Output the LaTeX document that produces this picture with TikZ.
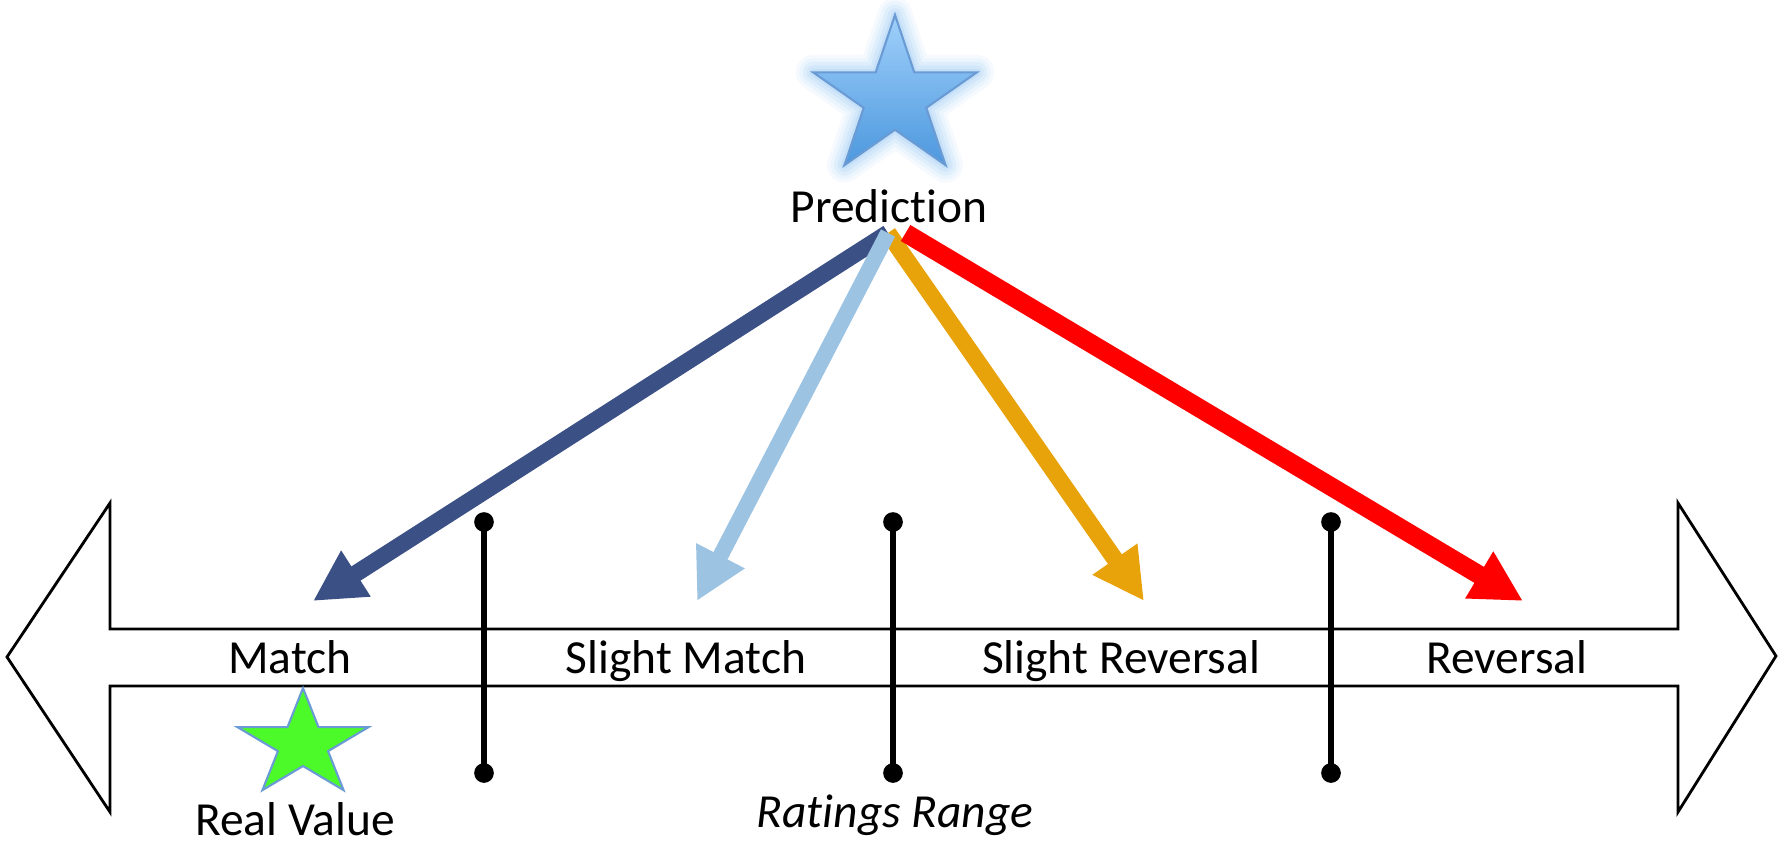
\documentclass[tikz,border=0pt]{standalone}
\usepackage{fontspec}
\setmainfont{Carlito}[Ligatures=NoCommon]
\usetikzlibrary{arrows.meta}
\definecolor{darkblueA}{HTML}{3B5084}
\definecolor{lightblueA}{HTML}{9DC3E2}
\definecolor{orangeA}{HTML}{E8A30A}
\definecolor{redA}{HTML}{FF0000}
\definecolor{greenstar}{HTML}{4CFA2A}
\definecolor{starline}{HTML}{6A9BD4}
\definecolor{startop}{HTML}{A0D0FA}
\definecolor{starbot}{HTML}{4C98DE}
\definecolor{glowA}{HTML}{A9D1F5}
\tikzset{
  lbl/.style={font=\fontsize{13.5}{16}\selectfont, inner sep=0pt, anchor=base},
  ratearrow/.style={line width=4.8pt, -{Triangle[length=14.5pt,width=14.5pt]}},
  ticker/.style={line width=1.6pt, black},
  bigarrow/.style={draw=black, line width=0.8pt, line join=miter, fill=white},
}
\begin{document}
\begin{tikzpicture}[x=0.01cm, y=-0.01cm]
\useasboundingbox (0,0) rectangle (1778,842);

% double-headed scale arrow
\draw[bigarrow] (7,657) -- (110,503) -- (110,629) -- (1678,629) -- (1678,503)
  -- (1776,656) -- (1678,812) -- (1678,686) -- (110,686) -- (110,812) -- cycle;

% range separators
\foreach \x/\n in {484/ta, 893/tb, 1331/tc}{
  \coordinate (\n top) at (\x,522);
  \coordinate (\n bot) at (\x,773);
  \draw[ticker] (\n top) -- (\n bot);
  \fill (\n top) circle (2.8pt);
  \fill (\n bot) circle (2.8pt);
}

% labels on the scale
\node[lbl] (match) at (290,673) {Match};
\node[lbl] (smatch) at (686,673) {Slight Match};
\node[lbl] (srev) at (1121,673) {Slight Reversal};
\node[lbl] (rev) at (1507,673) {Reversal};
\node[lbl, font=\fontsize{13.5}{16}\selectfont\itshape] (range) at (895,827) {Rat\kern0pt ings Range};

% green star (real value)
\begin{scope}[shift={(303,744.5)}, xscale=69, yscale=56.4]
  \draw[fill=greenstar, draw=starline, line width=0.6pt, line join=miter]
    (0,-1) -- (0.2245,-0.3090) -- (0.9511,-0.3090) -- (0.3633,0.1180) -- (0.5878,0.8090)
    -- (0,0.382) -- (-0.5878,0.8090) -- (-0.3633,0.1180) -- (-0.9511,-0.3090) -- (-0.2245,-0.3090) -- cycle;
\end{scope}
\node[lbl] (real) at (295,835) {Real Value};

% blue star (prediction) with glow
\begin{scope}[shift={(895,98)}, xscale=86, yscale=83]
  \foreach \w/\o in {10pt/0.10, 8pt/0.14, 6pt/0.18, 4pt/0.25, 2pt/0.35}{
    \draw[glowA, line width=\w, opacity=\o, line join=round]
      (0,-1) -- (0.2245,-0.3090) -- (0.9511,-0.3090) -- (0.3633,0.1180) -- (0.5878,0.8090)
      -- (0,0.382) -- (-0.5878,0.8090) -- (-0.3633,0.1180) -- (-0.9511,-0.3090) -- (-0.2245,-0.3090) -- cycle;
  }
  \draw[top color=startop, bottom color=starbot, draw=starline, line width=0.6pt, line join=miter]
    (0,-1) -- (0.2245,-0.3090) -- (0.9511,-0.3090) -- (0.3633,0.1180) -- (0.5878,0.8090)
    -- (0,0.382) -- (-0.5878,0.8090) -- (-0.3633,0.1180) -- (-0.9511,-0.3090) -- (-0.2245,-0.3090) -- cycle;
\end{scope}
\node[lbl] (pred) at (889,222) {Predic\kern0pt tion};

% arrows from the prediction
\coordinate (src) at (888,233);
\coordinate (tipA) at (313,601);
\coordinate (tipB) at (697,601);
\coordinate (tipC) at (1144,601);
\coordinate (tipD) at (1523,601);
\draw[ratearrow, darkblueA] (src) -- (tipA);
\draw[ratearrow, orangeA] (src) -- (tipC);
\draw[ratearrow, lightblueA, line width=4.5pt] (src) -- (tipB);
\draw[ratearrow, redA, line width=5.3pt] ([xshift=5]src) -- (tipD);
\end{tikzpicture}
\end{document}
